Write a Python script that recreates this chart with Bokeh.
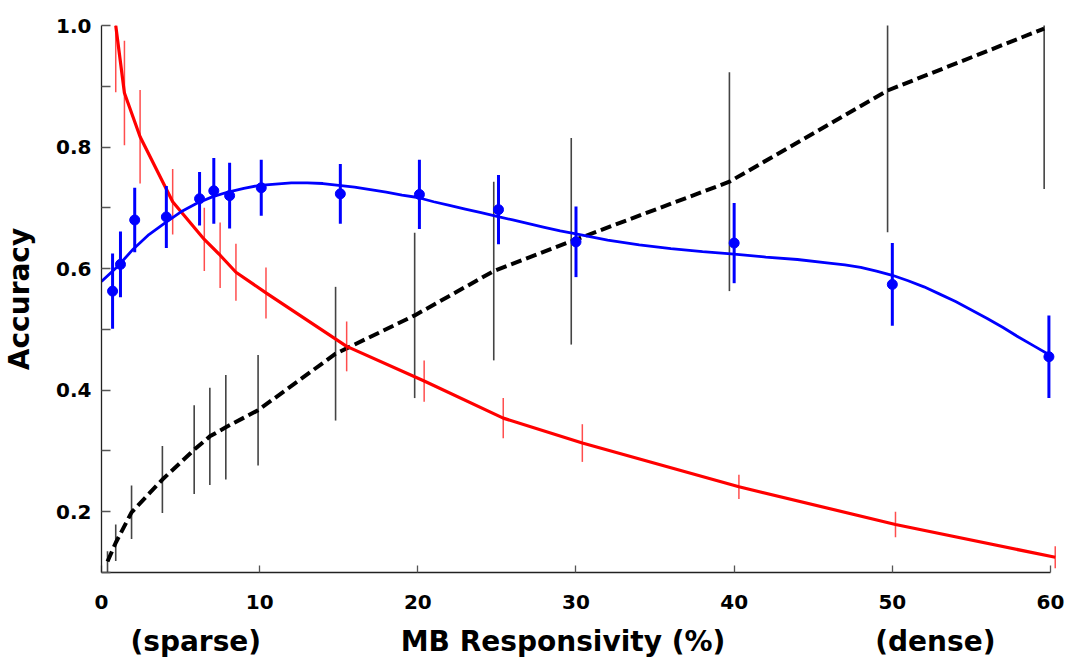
from bokeh.plotting import figure
from bokeh.models import Range1d, FixedTicker, ColumnDataSource, LinearAxis, PrintfTickFormatter
from bokeh.embed import file_html
from bokeh.resources import INLINE

# ---- data ----
blue_x = [0.7, 1.2, 2.1, 4.1, 6.2, 7.1, 8.1, 10.1, 15.1, 20.1, 25.1, 30.0, 40.0, 50.0, 59.9]
blue_y = [0.563, 0.607, 0.680, 0.685, 0.715, 0.728, 0.720, 0.733, 0.723, 0.722, 0.697, 0.644, 0.642, 0.574, 0.455]
blue_err = [0.062, 0.054, 0.053, 0.051, 0.044, 0.054, 0.054, 0.046, 0.049, 0.057, 0.057, 0.058, 0.066, 0.068, 0.068]

fit_x = [0, 1, 2, 3, 4, 5, 6, 7, 8, 9, 10, 11, 12, 13, 14, 15, 16, 17, 18, 19, 20,
         21, 22, 23, 24, 25, 26, 27, 28, 29, 30, 32, 34, 36, 38, 40, 42, 44, 46, 47,
         48, 49, 50, 51, 52, 53, 54, 55, 56, 57, 58, 59, 60]
fit_y = [0.579, 0.603, 0.632, 0.656, 0.675, 0.693, 0.707, 0.718, 0.726, 0.732, 0.737,
         0.739, 0.741, 0.741, 0.740, 0.737, 0.734, 0.730, 0.726, 0.721, 0.717,
         0.710, 0.704, 0.698, 0.692, 0.686, 0.680, 0.674, 0.668, 0.662, 0.657,
         0.647, 0.639, 0.633, 0.628, 0.624, 0.619, 0.615, 0.609, 0.606,
         0.602, 0.596, 0.589, 0.580, 0.570, 0.558, 0.546, 0.532, 0.518, 0.503, 0.487, 0.472, 0.457]

red_x = [0.9, 1.45, 2.44, 4.5, 6.5, 7.5, 8.5, 10.4, 15.5, 20.4, 25.4, 30.4, 40.3, 50.2, 60.3]
red_y = [1.00, 0.889, 0.817, 0.710, 0.648, 0.622, 0.594, 0.560, 0.472, 0.415, 0.354, 0.313, 0.241, 0.179, 0.125]
red_err = [0.11, 0.086, 0.077, 0.054, 0.052, 0.054, 0.047, 0.042, 0.041, 0.034, 0.033, 0.031, 0.020, 0.021, 0.018]

blk_x = [0.38, 0.9, 1.9, 3.85, 5.86, 6.85, 7.86, 9.9, 14.8, 19.8, 24.8, 29.7, 39.7, 49.7, 59.6]
blk_y = [0.118, 0.149, 0.199, 0.253, 0.302, 0.324, 0.339, 0.367, 0.460, 0.523, 0.596, 0.645, 0.743, 0.893, 0.995]
blk_err = [0.017, 0.030, 0.044, 0.055, 0.073, 0.080, 0.086, 0.091, 0.110, 0.136, 0.147, 0.170, 0.180, 0.233, 0.264]

x_ticks = [0, 10, 20, 30, 40, 50, 60]
y_ticks = [0.2, 0.4, 0.6, 0.8, 1.0]
y_minor = [0.1, 0.3, 0.5, 0.7, 0.9]

note_pos = [5.96, 29.18, 52.72]
note_text = ["(sparse)", "MB Responsivity (%)", "(dense)"]
y_title = "Accuracy"

FONT = "DejaVu Sans"

p = figure(width=1090, height=672, output_backend="svg", toolbar_location=None,
           x_range=Range1d(0, 60.38), y_range=Range1d(0.1, 1.0),
           min_border_left=98, min_border_right=34, min_border_top=25, min_border_bottom=100)
p.outline_line_color = None
p.xgrid.visible = False
p.ygrid.visible = False
p.background_fill_color = "white"

def seg(xs, ys, es):
    return ColumnDataSource(dict(x=xs, lo=[y - e for y, e in zip(ys, es)],
                                 hi=[y + e for y, e in zip(ys, es)]))

# black dashed series
p.segment(x0="x", y0="lo", x1="x", y1="hi", source=seg(blk_x, blk_y, blk_err),
          line_color="#444444", line_width=1.6)
p.line(blk_x, blk_y, line_color="black", line_width=4, line_dash="11 5")

# red series
p.segment(x0="x", y0="lo", x1="x", y1="hi", source=seg(red_x, red_y, red_err),
          line_color="#ff2020", line_width=1.5, line_alpha=0.8)
p.line(red_x, red_y, line_color="#ff0000", line_width=3.2)

# blue series
p.line(fit_x, fit_y, line_color="#0000ff", line_width=2.8)
p.segment(x0="x", y0="lo", x1="x", y1="hi", source=seg(blue_x, blue_y, blue_err),
          line_color="#0000ff", line_width=3)
p.scatter(blue_x, blue_y, size=10, color="#0000ff")

# axes
for ax in (p.xaxis[0], p.yaxis[0]):
    ax.axis_line_color = "#222222"
    ax.axis_line_width = 1.3
    ax.major_tick_line_color = "#555555"
    ax.minor_tick_line_color = "#555555"
    ax.major_tick_line_width = 1.3
    ax.minor_tick_line_width = 1.3
    ax.major_tick_out = 0
    ax.minor_tick_out = 0
    ax.major_label_text_font = FONT
    ax.major_label_text_font_style = "bold"
    ax.major_label_text_font_size = "20px"
    ax.major_label_text_color = "black"

p.xaxis.ticker = FixedTicker(ticks=x_ticks)
p.xaxis.major_tick_in = 7
p.xaxis.minor_tick_in = 0
p.xaxis.bounds = (0, 60)
p.xaxis.major_label_standoff = 22

p.yaxis.ticker = FixedTicker(ticks=y_ticks, minor_ticks=y_minor)
p.yaxis.formatter = PrintfTickFormatter(format="%.1f")
p.yaxis.major_tick_in = 9
p.yaxis.minor_tick_in = 9
p.yaxis.major_label_standoff = 10
p.yaxis.axis_label = y_title
p.yaxis.axis_label_text_font = FONT
p.yaxis.axis_label_text_font_style = "bold"
p.yaxis.axis_label_text_font_size = "28px"
p.yaxis.axis_label_text_color = "black"
p.yaxis.axis_label_standoff = 17

# second bottom axis carrying the x description texts
notes = LinearAxis(ticker=FixedTicker(ticks=note_pos),
                   major_label_overrides={v: t for v, t in zip(note_pos, note_text)})
notes.axis_line_color = None
notes.major_tick_line_color = None
notes.minor_tick_line_color = None
notes.major_label_text_font = FONT
notes.major_label_text_font_style = "bold"
notes.major_label_text_font_size = "28px"
notes.major_label_text_color = "black"
notes.major_label_standoff = 7
p.add_layout(notes, "below")

open("out.html", "w").write(file_html(p, INLINE))
